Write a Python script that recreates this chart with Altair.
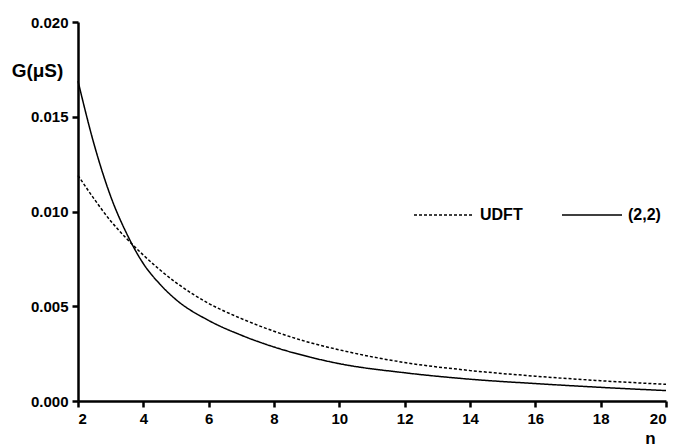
import altair as alt
import pandas as pd

n_22 = [2, 2.5, 3, 3.5, 4, 4.5, 5, 6, 7, 8, 9, 10, 12, 14, 16, 18, 20]
g_22 = [0.01688, 0.0135, 0.0108, 0.0088, 0.00725, 0.00618, 0.00535, 0.00425, 0.00347, 0.00285,
        0.00236, 0.00197, 0.00149, 0.00115, 0.00092, 0.00072, 0.00055]

n_udft = [2, 2.5, 3, 3.5, 4, 5, 6, 7, 8, 9, 10, 12, 14, 16, 18, 20]
g_udft = [0.0119, 0.01065, 0.0095, 0.00855, 0.0077, 0.00625, 0.00515, 0.00435, 0.00368, 0.00313,
          0.0027, 0.00203, 0.00161, 0.00131, 0.00107, 0.00088]

series_names = ["UDFT", "(2,2)"]
x_ticks = [2, 4, 6, 8, 10, 12, 14, 16, 18, 20]
y_ticks = [0.0, 0.005, 0.010, 0.015, 0.020]
x_range = [2, 20]
y_range = [0.0, 0.020]

df = pd.concat([
    pd.DataFrame({"n": n_udft, "G": g_udft, "s": series_names[0]}),
    pd.DataFrame({"n": n_22, "G": g_22, "s": series_names[1]}),
])

FONT = "Liberation Sans"
AX = "#000000"
xs = alt.Scale(domain=x_range, nice=False, zero=False)
ys = alt.Scale(domain=y_range, nice=False)

x_axis = alt.Axis(values=x_ticks, format="d", title="n", titleAngle=0,
                  domain=True, ticks=True, domainColor=AX, domainWidth=2.5,
                  tickColor=AX, tickWidth=2.5, tickSize=6,
                  titleX=572, titleY=37, titleAlign="center", titleBaseline="middle",
                  titleFontSize=17, labelPadding=4)
y_axis = alt.Axis(values=y_ticks, format=".3f", title="G(μS)", titleAngle=0,
                  domain=True, ticks=True, domainColor=AX, domainWidth=2.5,
                  tickColor=AX, tickWidth=2.5, tickSize=6,
                  titleX=-41, titleY=48, titleAlign="center", titleBaseline="middle",
                  titleFontSize=19, labelPadding=4)

chart = alt.Chart(df).mark_line(interpolate="monotone", strokeWidth=1.5, color="black").encode(
    x=alt.X("n:Q", scale=xs, axis=x_axis),
    y=alt.Y("G:Q", scale=ys, axis=y_axis),
    strokeDash=alt.StrokeDash("s:N", scale=alt.Scale(domain=series_names, range=[[3, 2], [1, 0]]),
                              legend=alt.Legend(title=None, orient="none", legendX=335, legendY=162,
                                                direction="horizontal", symbolType="stroke",
                                                symbolSize=3600, symbolStrokeWidth=1.5,
                                                symbolStrokeColor="black", labelFont=FONT,
                                                labelFontSize=16, labelFontWeight="bold",
                                                labelColor="black", labelOffset=5,
                                                columnPadding=36)),
    detail="s:N",
).properties(
    width=588, height=379,
    padding={"left": 78, "top": 22, "right": 11, "bottom": 47},
    autosize=alt.AutoSizeParams(type="none"),
    background="#ffffff",
).configure_axis(
    grid=False,
    labelFont=FONT, labelFontSize=15, labelFontWeight="bold", labelColor="black",
    titleFont=FONT, titleFontWeight="bold", titleColor="black",
).configure_view(stroke=None)

chart.save("out.html", embed_options={"renderer": "svg", "actions": False})
